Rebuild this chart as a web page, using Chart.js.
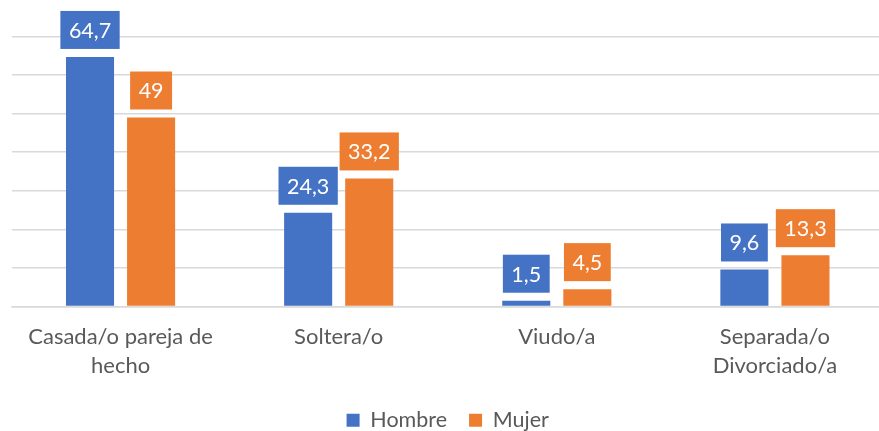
<!DOCTYPE html>
<html>
<head>
<meta charset="utf-8">
<script src="https://cdn.jsdelivr.net/npm/chart.js@4/dist/chart.umd.min.js"></script>
<style>
html,body{margin:0;padding:0;background:#fff;overflow:hidden;}
#wrap{position:absolute;left:0;top:0;width:884px;height:441px;}
</style>
</head>
<body>
<div id="wrap"><canvas id="c"></canvas></div>
<script>
const categories = [["Casada/o pareja de","hecho"], "Soltera/o", "Viudo/a", ["Separada/o","Divorciado/a"]];
const hombre = [64.7, 24.3, 1.5, 9.6];
const mujer = [49, 33.2, 4.5, 13.3];
const seriesNames = ["Hombre", "Mujer"];
const colors = ["#4472C4", "#ED7D31"];
const FONT = "Lato, 'Open Sans', sans-serif";

const labelPlugin = {
  id: 'boxLabels',
  afterDatasetsDraw(chart) {
    const ctx = chart.ctx;
    ctx.save();
    ctx.font = "21.5px " + FONT;
    ctx.textAlign = 'center';
    ctx.textBaseline = 'middle';
    chart.data.datasets.forEach((ds, di) => {
      const meta = chart.getDatasetMeta(di);
      meta.data.forEach((bar, i) => {
        const txt = String(ds.data[i]).replace('.', ',');
        const tw = ctx.measureText(txt).width;
        const w = tw + 17, h = 38;
        const bottom = bar.y - 8;
        ctx.fillStyle = ds.backgroundColor;
        ctx.fillRect(bar.x - w / 2, bottom - h, w, h);
        ctx.fillStyle = '#ffffff';
        ctx.fillText(txt, bar.x, bottom - h / 2 + 1);
      });
    });
    ctx.restore();
  }
};

new Chart(document.getElementById('c'), {
  type: 'bar',
  data: {
    labels: categories,
    datasets: [
      { label: seriesNames[0], data: hombre, backgroundColor: colors[0] },
      { label: seriesNames[1], data: mujer, backgroundColor: colors[1] }
    ]
  },
  options: {
    responsive: true,
    maintainAspectRatio: false,
    animation: false,
    categoryPercentage: 0.56,
    barPercentage: 0.787,
    layout: { padding: { left: 11.5, right: 0, top: 36.5, bottom: 0 } },
    scales: {
      x: {
        grid: { display: false },
        border: { display: true, color: '#d9d9d9', width: 1.5 },
        ticks: { color: '#595959', font: { family: FONT, size: 22, lineHeight: 1.32 }, padding: 8, maxRotation: 0, autoSkip: false },
        afterFit(scale) { scale.height = 81; }
      },
      y: {
        min: 0, max: 70,
        ticks: { display: false, stepSize: 10 },
        grid: { color: '#d9d9d9', lineWidth: 1.5, drawTicks: false },
        border: { display: false }
      }
    },
    plugins: {
      legend: {
        position: 'bottom',
        labels: { color: '#595959', font: { family: FONT, size: 21.5 }, boxWidth: 13, boxHeight: 13, padding: 22 }
      },
      tooltip: { enabled: false }
    }
  },
  plugins: [labelPlugin]
});
</script>
</body>
</html>
